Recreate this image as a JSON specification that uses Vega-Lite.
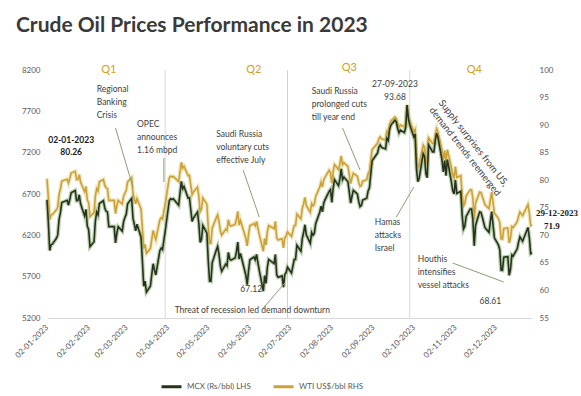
{
"$schema": "https://vega.github.io/schema/vega-lite/v6.json",
"width": 485, "height": 248,
"autosize": {"type": "none"},
"padding": {"left": 47, "top": 70, "right": 49, "bottom": 78},
"background": "white",
"title": {"text": "Crude Oil Prices Performance in 2023", "anchor": "start", "frame": "group", "dx": -31, "offset": 26, "fontSize": 21, "font": "Lato", "fontWeight": "bold", "color": "#3a3a3a"},
"config": {"view": {"stroke": null}, "font": "Lato"},
"datasets": {
"px": [
{"d":"2023-01-02","m":6630,"w":80.26},{"d":"2023-01-03","m":6354,"w":76.93},{"d":"2023-01-04","m":6017,"w":72.84},{"d":"2023-01-05","m":6085,"w":73.67},{"d":"2023-01-06","m":6093,"w":73.77},{"d":"2023-01-09","m":6164,"w":74.63},{"d":"2023-01-10","m":6205,"w":75.12},{"d":"2023-01-11","m":6394,"w":77.41},{"d":"2023-01-12","m":6475,"w":78.39},{"d":"2023-01-13","m":6596,"w":79.86},{"d":"2023-01-17","m":6623,"w":80.18},{"d":"2023-01-18","m":6565,"w":79.48},{"d":"2023-01-19","m":6635,"w":80.33},{"d":"2023-01-20","m":6716,"w":81.31},{"d":"2023-01-23","m":6742,"w":81.62},{"d":"2023-01-24","m":6619,"w":80.13},{"d":"2023-01-25","m":6620,"w":80.15},{"d":"2023-01-26","m":6691,"w":81.01},{"d":"2023-01-27","m":6582,"w":79.68},{"d":"2023-01-30","m":6435,"w":77.90},{"d":"2023-01-31","m":6515,"w":78.87},
{"d":"2023-02-01","m":6311,"w":76.41},{"d":"2023-02-02","m":6268,"w":75.88},{"d":"2023-02-03","m":6062,"w":73.39},{"d":"2023-02-06","m":6122,"w":74.11},{"d":"2023-02-07","m":6372,"w":77.14},{"d":"2023-02-08","m":6482,"w":78.47},{"d":"2023-02-09","m":6448,"w":78.06},{"d":"2023-02-10","m":6585,"w":79.72},{"d":"2023-02-13","m":6620,"w":80.14},{"d":"2023-02-14","m":6530,"w":79.06},{"d":"2023-02-15","m":6492,"w":78.59},{"d":"2023-02-16","m":6483,"w":78.49},{"d":"2023-02-17","m":6306,"w":76.34},{"d":"2023-02-21","m":6307,"w":76.36},{"d":"2023-02-22","m":6108,"w":73.95},{"d":"2023-02-23","m":6227,"w":75.39},{"d":"2023-02-24","m":6304,"w":76.32},{"d":"2023-02-27","m":6251,"w":75.68},{"d":"2023-02-28","m":6364,"w":77.05},
{"d":"2023-03-01","m":6417,"w":77.69},{"d":"2023-03-02","m":6456,"w":78.16},{"d":"2023-03-03","m":6582,"w":79.68},{"d":"2023-03-06","m":6646,"w":80.46},{"d":"2023-03-07","m":6408,"w":77.58},{"d":"2023-03-08","m":6332,"w":76.66},{"d":"2023-03-09","m":6254,"w":75.72},{"d":"2023-03-10","m":6334,"w":76.68},{"d":"2023-03-13","m":6178,"w":74.80},{"d":"2023-03-14","m":5892,"w":71.33},{"d":"2023-03-15","m":5585,"w":67.61},{"d":"2023-03-16","m":5646,"w":68.35},{"d":"2023-03-17","m":5513,"w":66.74},{"d":"2023-03-20","m":5587,"w":67.64},{"d":"2023-03-21","m":5727,"w":69.33},{"d":"2023-03-22","m":5856,"w":70.90},{"d":"2023-03-23","m":5779,"w":69.96},{"d":"2023-03-24","m":5721,"w":69.26},{"d":"2023-03-27","m":6014,"w":72.81},{"d":"2023-03-28","m":6046,"w":73.20},{"d":"2023-03-29","m":6027,"w":72.97},{"d":"2023-03-30","m":6143,"w":74.37},{"d":"2023-03-31","m":6250,"w":75.67},
{"d":"2023-04-03","m":6619,"w":80.42},{"d":"2023-04-04","m":6642,"w":80.71},{"d":"2023-04-05","m":6634,"w":80.61},{"d":"2023-04-06","m":6642,"w":80.70},{"d":"2023-04-10","m":6563,"w":79.74},{"d":"2023-04-11","m":6710,"w":81.53},{"d":"2023-04-12","m":6852,"w":83.26},{"d":"2023-04-13","m":6762,"w":82.16},{"d":"2023-04-14","m":6791,"w":82.52},{"d":"2023-04-17","m":6652,"w":80.83},{"d":"2023-04-18","m":6655,"w":80.86},{"d":"2023-04-19","m":6515,"w":79.16},{"d":"2023-04-20","m":6368,"w":77.37},{"d":"2023-04-21","m":6409,"w":77.87},{"d":"2023-04-24","m":6482,"w":78.76},{"d":"2023-04-25","m":6343,"w":77.07},{"d":"2023-04-26","m":6115,"w":74.30},{"d":"2023-04-27","m":6153,"w":74.76},{"d":"2023-04-28","m":6319,"w":76.78},
{"d":"2023-05-01","m":6227,"w":75.66},{"d":"2023-05-02","m":5898,"w":71.66},{"d":"2023-05-03","m":5646,"w":68.60},{"d":"2023-05-04","m":5643,"w":68.56},{"d":"2023-05-05","m":5871,"w":71.34},{"d":"2023-05-08","m":6021,"w":73.16},{"d":"2023-05-09","m":6066,"w":73.71},{"d":"2023-05-10","m":5972,"w":72.56},{"d":"2023-05-11","m":5833,"w":70.87},{"d":"2023-05-12","m":5764,"w":70.04},{"d":"2023-05-15","m":5852,"w":71.11},{"d":"2023-05-16","m":5832,"w":70.86},{"d":"2023-05-17","m":5994,"w":72.83},{"d":"2023-05-18","m":5914,"w":71.86},{"d":"2023-05-19","m":5900,"w":71.69},{"d":"2023-05-22","m":5925,"w":71.99},{"d":"2023-05-23","m":6000,"w":72.91},{"d":"2023-05-24","m":6118,"w":74.34},{"d":"2023-05-25","m":5912,"w":71.83},{"d":"2023-05-26","m":5981,"w":72.67},{"d":"2023-05-30","m":5717,"w":69.46},{"d":"2023-05-31","m":5604,"w":68.09},
{"d":"2023-06-01","m":5769,"w":70.10},{"d":"2023-06-02","m":5904,"w":71.74},{"d":"2023-06-05","m":5938,"w":72.15},{"d":"2023-06-06","m":5904,"w":71.74},{"d":"2023-06-07","m":5969,"w":72.53},{"d":"2023-06-08","m":5867,"w":71.29},{"d":"2023-06-09","m":5775,"w":70.17},{"d":"2023-06-12","m":5524,"w":67.12},{"d":"2023-06-13","m":5713,"w":69.42},{"d":"2023-06-14","m":5619,"w":68.27},{"d":"2023-06-15","m":5812,"w":70.62},{"d":"2023-06-16","m":5908,"w":71.78},{"d":"2023-06-20","m":5859,"w":71.19},{"d":"2023-06-21","m":5969,"w":72.53},{"d":"2023-06-22","m":5721,"w":69.51},{"d":"2023-06-23","m":5692,"w":69.16},{"d":"2023-06-26","m":5709,"w":69.37},{"d":"2023-06-27","m":5572,"w":67.70},{"d":"2023-06-28","m":5725,"w":69.56},{"d":"2023-06-29","m":5750,"w":69.86},{"d":"2023-06-30","m":5814,"w":70.64},
{"d":"2023-07-03","m":5744,"w":69.79},{"d":"2023-07-05","m":5908,"w":71.79},{"d":"2023-07-06","m":5909,"w":71.80},{"d":"2023-07-07","m":6079,"w":73.86},{"d":"2023-07-10","m":6007,"w":72.99},{"d":"2023-07-11","m":6159,"w":74.83},{"d":"2023-07-12","m":6234,"w":75.75},{"d":"2023-07-13","m":6328,"w":76.89},{"d":"2023-07-14","m":6207,"w":75.42},{"d":"2023-07-17","m":6103,"w":74.15},{"d":"2023-07-18","m":6234,"w":75.75},{"d":"2023-07-19","m":6201,"w":75.35},{"d":"2023-07-20","m":6224,"w":75.63},{"d":"2023-07-21","m":6343,"w":77.07},{"d":"2023-07-24","m":6480,"w":78.74},{"d":"2023-07-25","m":6554,"w":79.63},{"d":"2023-07-26","m":6484,"w":78.78},{"d":"2023-07-27","m":6591,"w":80.09},{"d":"2023-07-28","m":6632,"w":80.58},{"d":"2023-07-31","m":6732,"w":81.80},
{"d":"2023-08-01","m":6754,"w":81.37},{"d":"2023-08-02","m":6598,"w":79.49},{"d":"2023-08-03","m":6769,"w":81.55},{"d":"2023-08-04","m":6874,"w":82.82},{"d":"2023-08-07","m":6801,"w":81.94},{"d":"2023-08-08","m":6882,"w":82.92},{"d":"2023-08-09","m":7005,"w":84.40},{"d":"2023-08-10","m":6874,"w":82.82},{"d":"2023-08-11","m":6905,"w":83.19},{"d":"2023-08-14","m":6848,"w":82.51},{"d":"2023-08-15","m":6722,"w":80.99},{"d":"2023-08-16","m":6589,"w":79.38},{"d":"2023-08-17","m":6672,"w":80.39},{"d":"2023-08-18","m":6744,"w":81.25},{"d":"2023-08-21","m":6700,"w":80.72},{"d":"2023-08-22","m":6610,"w":79.64},{"d":"2023-08-23","m":6548,"w":78.89},{"d":"2023-08-24","m":6561,"w":79.05},{"d":"2023-08-25","m":6626,"w":79.83},{"d":"2023-08-28","m":6648,"w":80.10},{"d":"2023-08-29","m":6736,"w":81.16},{"d":"2023-08-30","m":6775,"w":81.63},{"d":"2023-08-31","m":6941,"w":83.63},
{"d":"2023-09-01","m":7101,"w":85.55},{"d":"2023-09-05","m":7195,"w":86.69},{"d":"2023-09-06","m":7266,"w":87.54},{"d":"2023-09-07","m":7293,"w":87.87},{"d":"2023-09-08","m":7263,"w":87.51},{"d":"2023-09-11","m":7245,"w":87.29},{"d":"2023-09-12","m":7374,"w":88.84},{"d":"2023-09-13","m":7347,"w":88.52},{"d":"2023-09-14","m":7483,"w":90.16},{"d":"2023-09-15","m":7534,"w":90.77},{"d":"2023-09-18","m":7593,"w":91.48},{"d":"2023-09-19","m":7570,"w":91.20},{"d":"2023-09-20","m":7493,"w":90.28},{"d":"2023-09-21","m":7439,"w":89.63},{"d":"2023-09-22","m":7473,"w":90.03},{"d":"2023-09-25","m":7443,"w":89.68},{"d":"2023-09-26","m":7502,"w":90.39},{"d":"2023-09-27","m":7775,"w":93.68},{"d":"2023-09-28","m":7612,"w":91.71},{"d":"2023-09-29","m":7536,"w":90.79},
{"d":"2023-10-02","m":7390,"w":88.82},{"d":"2023-10-03","m":7424,"w":89.23},{"d":"2023-10-04","m":7007,"w":84.22},{"d":"2023-10-05","m":6848,"w":82.31},{"d":"2023-10-06","m":6888,"w":82.79},{"d":"2023-10-09","m":7187,"w":86.38},{"d":"2023-10-10","m":7153,"w":85.97},{"d":"2023-10-11","m":6946,"w":83.49},{"d":"2023-10-12","m":6898,"w":82.91},{"d":"2023-10-13","m":7296,"w":87.69},{"d":"2023-10-16","m":7210,"w":86.66},{"d":"2023-10-17","m":7210,"w":86.66},{"d":"2023-10-18","m":7348,"w":88.32},{"d":"2023-10-19","m":7436,"w":89.37},{"d":"2023-10-20","m":7384,"w":88.75},{"d":"2023-10-23","m":7113,"w":85.49},{"d":"2023-10-24","m":6967,"w":83.74},{"d":"2023-10-25","m":7104,"w":85.39},{"d":"2023-10-26","m":6923,"w":83.21},{"d":"2023-10-27","m":7117,"w":85.54},{"d":"2023-10-30","m":6848,"w":82.31},{"d":"2023-10-31","m":6741,"w":81.02},
{"d":"2023-11-01","m":6701,"w":80.44},{"d":"2023-11-02","m":6869,"w":82.46},{"d":"2023-11-03","m":6707,"w":80.51},{"d":"2023-11-06","m":6732,"w":80.82},{"d":"2023-11-07","m":6445,"w":77.37},{"d":"2023-11-08","m":6275,"w":75.33},{"d":"2023-11-09","m":6309,"w":75.74},{"d":"2023-11-10","m":6428,"w":77.17},{"d":"2023-11-13","m":6519,"w":78.26},{"d":"2023-11-14","m":6519,"w":78.26},{"d":"2023-11-15","m":6386,"w":76.66},{"d":"2023-11-16","m":6073,"w":72.90},{"d":"2023-11-17","m":6322,"w":75.89},{"d":"2023-11-20","m":6483,"w":77.83},{"d":"2023-11-21","m":6478,"w":77.77},{"d":"2023-11-22","m":6422,"w":77.10},{"d":"2023-11-24","m":6293,"w":75.54},{"d":"2023-11-27","m":6236,"w":74.86},{"d":"2023-11-28","m":6365,"w":76.41},{"d":"2023-11-29","m":6486,"w":77.86},{"d":"2023-11-30","m":6328,"w":75.96},
{"d":"2023-12-01","m":6170,"w":74.07},{"d":"2023-12-04","m":6084,"w":73.04},{"d":"2023-12-05","m":6024,"w":72.32},{"d":"2023-12-06","m":5779,"w":69.38},{"d":"2023-12-07","m":5776,"w":69.34},{"d":"2023-12-08","m":5934,"w":71.23},{"d":"2023-12-11","m":5941,"w":71.32},{"d":"2023-12-12","m":5715,"w":68.61},{"d":"2023-12-13","m":5787,"w":69.47},{"d":"2023-12-14","m":5963,"w":71.58},{"d":"2023-12-15","m":5950,"w":71.43},{"d":"2023-12-18","m":6037,"w":72.47},{"d":"2023-12-19","m":6118,"w":73.44},{"d":"2023-12-20","m":6183,"w":74.22},{"d":"2023-12-21","m":6155,"w":73.89},{"d":"2023-12-22","m":6128,"w":73.56},{"d":"2023-12-26","m":6295,"w":75.57},{"d":"2023-12-27","m":6173,"w":74.11},{"d":"2023-12-28","m":5978,"w":71.77},{"d":"2023-12-29","m":5989,"w":71.90}
],
"qgray": [{"d":"2023-03-31"},{"d":"2023-09-29"}],
"qred": [{"d":"2023-06-30"}],
"leaders": [
{"d":"2023-02-22","v":7498,"d2":"2023-03-07","v2":6780},
{"d":"2023-03-30","v":7135,"d2":"2023-03-30","v2":6845},
{"d":"2023-05-28","v":6990,"d2":"2023-06-09","v2":6421},
{"d":"2023-08-10","v":7498,"d2":"2023-08-23","v2":6990},
{"d":"2023-09-19","v":6421,"d2":"2023-10-02","v2":6784},
{"d":"2023-10-31","v":5865,"d2":"2023-12-08","v2":5635},
{"d":"2023-06-12","v":5320,"d2":"2023-06-28","v2":5623}
],
"notesL": [
{"d":"2023-02-08","v":8018,"t":"Regional|Banking|Crisis"},
{"d":"2023-03-10","v":7595,"t":"OPEC|announces|1.16 mbpd"},
{"d":"2023-05-08","v":7474,"t":"Saudi Russia|voluntary cuts|effective July"},
{"d":"2023-07-18","v":7994,"t":"Saudi Russia|prolonged cuts|till year end"},
{"d":"2023-09-03","v":6409,"t":"Hamas|attacks|Israel"},
{"d":"2023-10-05","v":5962,"t":"Houthis|intensifies|vessel attacks"},
{"d":"2023-04-07","v":5345,"t":"Threat of recession led demand downturn"}
],
"notesC": [
{"d":"2023-06-03","v":5600,"t":"67.12"},
{"d":"2023-11-28","v":5453,"t":"68.61"},
{"d":"2023-09-18","v":8079,"t":"27-09-2023|93.68"}
],
"boldC": [{"d":"2023-01-20","v":7401,"t":"02-01-2023|80.26"}],
"boldR": [{"d":"2024-01-01","v":6470,"t":"29-12-2023"},{"d":"2024-01-07","v":6312,"t":"71.9"}],
"rot": [{"d":"2023-10-25","v":7861,"t":"Supply surprises from US,|demand trends reemerged"}],
"quarters": [{"d":"2023-02-17","v":8200,"t":"Q1"},{"d":"2023-06-05","v":8200,"t":"Q2"},{"d":"2023-08-15","v":8224,"t":"Q3"},{"d":"2023-11-16","v":8200,"t":"Q4"}]
},
"encoding": {
"x": {"field": "d", "type": "temporal",
 "scale": {"type": "utc", "domain": [{"year":2023,"month":1,"date":2,"utc":true},{"year":2023,"month":12,"date":29,"utc":true}]},
 "axis": {"values": [{"year":2023,"month":1,"date":2,"utc":true},{"year":2023,"month":2,"date":2,"utc":true},{"year":2023,"month":3,"date":2,"utc":true},{"year":2023,"month":4,"date":2,"utc":true},{"year":2023,"month":5,"date":2,"utc":true},{"year":2023,"month":6,"date":2,"utc":true},{"year":2023,"month":7,"date":2,"utc":true},{"year":2023,"month":8,"date":2,"utc":true},{"year":2023,"month":9,"date":2,"utc":true},{"year":2023,"month":10,"date":2,"utc":true},{"year":2023,"month":11,"date":2,"utc":true},{"year":2023,"month":12,"date":2,"utc":true}],
  "labelExpr": "utcFormat(datum.value, '%d-%m-%Y')", "labelAngle": -45, "labelAlign": "right", "labelBaseline": "middle", "labelFontSize": 8, "labelColor": "#595959", "ticks": false, "domainColor": "#d9d9d9", "grid": false, "title": null, "labelPadding": 8, "labelFont": "Lato"}}
},
"layer": [
{"data": {"name": "qgray"}, "mark": {"type": "rule", "color": "#d9d9d9", "strokeWidth": 1}},
{"data": {"name": "qred"}, "mark": {"type": "rule", "color": "#f2c4bd", "strokeWidth": 1}},
{"data": {"name": "px"}, "mark": {"type": "line", "color": "#e9d595", "strokeWidth": 4, "opacity": 0.65},
 "encoding": {"y": {"field": "w", "type": "quantitative", "scale": {"domain": [55, 100], "nice": false, "zero": false}, "axis": null}}},
{"data": {"name": "px"}, "mark": {"type": "line", "color": "#7fa866", "strokeWidth": 4, "opacity": 0.55},
 "encoding": {"y": {"field": "m", "type": "quantitative", "scale": {"domain": [5200, 8200], "nice": false, "zero": false}, "axis": null}}},
{"data": {"name": "px"}, "mark": {"type": "line", "strokeWidth": 1.6},
 "encoding": {"y": {"field": "w", "type": "quantitative", "scale": {"domain": [55, 100], "nice": false, "zero": false},
   "axis": {"orient": "right", "values": [55,60,65,70,75,80,85,90,95,100], "format": "d", "ticks": false, "domain": false, "grid": false, "title": null, "labelFontSize": 8, "labelColor": "#595959", "labelPadding": 7, "labelFont": "Lato"}},
  "color": {"datum": "WTI US$/bbl RHS", "type": "nominal"}}},
{"data": {"name": "px"}, "mark": {"type": "line", "strokeWidth": 1.6},
 "encoding": {"y": {"field": "m", "type": "quantitative", "scale": {"domain": [5200, 8200], "nice": false, "zero": false},
   "axis": {"orient": "left", "values": [5200,5700,6200,6700,7200,7700,8200], "format": "d", "ticks": false, "domain": false, "grid": false, "title": null, "labelFontSize": 8, "labelColor": "#595959", "labelPadding": 7, "labelFont": "Lato"}},
  "color": {"datum": "MCX (Rs/bbl) LHS", "type": "nominal",
   "scale": {"domain": ["MCX (Rs/bbl) LHS", "WTI US$/bbl RHS"], "range": ["#26321e", "#c9a33a"]},
   "legend": {"orient": "none", "legendX": 113, "legendY": 305, "direction": "horizontal", "title": null, "symbolType": "stroke", "symbolStrokeWidth": 3, "symbolSize": 400, "labelFontSize": 8, "labelColor": "#595959", "columnPadding": 16, "labelFont": "Lato"}}}},
{"data": {"name": "leaders"}, "mark": {"type": "rule", "color": "#86a274", "strokeWidth": 1},
 "encoding": {"y": {"field": "v", "type": "quantitative", "scale": {"domain": [5200, 8200], "nice": false, "zero": false}, "axis": null},
  "x2": {"field": "d2"}, "y2": {"field": "v2"}}},
{"data": {"name": "notesL"}, "mark": {"type": "text", "align": "left", "baseline": "top", "fontSize": 8.5, "lineBreak": "|", "lineHeight": 13, "color": "#404040", "font": "Lato"},
 "encoding": {"y": {"field": "v", "type": "quantitative", "scale": {"domain": [5200, 8200], "nice": false, "zero": false}, "axis": null}, "text": {"field": "t"}}},
{"data": {"name": "notesC"}, "mark": {"type": "text", "align": "center", "baseline": "top", "fontSize": 8.5, "lineBreak": "|", "lineHeight": 13, "color": "#404040", "font": "Lato"},
 "encoding": {"y": {"field": "v", "type": "quantitative", "scale": {"domain": [5200, 8200], "nice": false, "zero": false}, "axis": null}, "text": {"field": "t"}}},
{"data": {"name": "boldC"}, "mark": {"type": "text", "align": "center", "baseline": "top", "fontSize": 8.5, "fontWeight": "bold", "lineBreak": "|", "lineHeight": 12, "color": "#1a1a1a", "font": "Lato"},
 "encoding": {"y": {"field": "v", "type": "quantitative", "scale": {"domain": [5200, 8200], "nice": false, "zero": false}, "axis": null}, "text": {"field": "t"}}},
{"data": {"name": "boldR"}, "mark": {"type": "text", "align": "left", "baseline": "middle", "fontSize": 9, "fontWeight": "bold", "color": "#1a1a1a", "font": "Liberation Serif"},
 "encoding": {"y": {"field": "v", "type": "quantitative", "scale": {"domain": [5200, 8200], "nice": false, "zero": false}, "axis": null}, "text": {"field": "t"}}},
{"data": {"name": "rot"}, "mark": {"type": "text", "align": "left", "baseline": "top", "angle": 52, "fontSize": 9.5, "lineBreak": "|", "lineHeight": 12, "color": "#404040", "font": "Lato"},
 "encoding": {"y": {"field": "v", "type": "quantitative", "scale": {"domain": [5200, 8200], "nice": false, "zero": false}, "axis": null}, "text": {"field": "t"}}},
{"data": {"name": "quarters"}, "mark": {"type": "text", "align": "center", "baseline": "middle", "fontSize": 11, "color": "#d1a024", "font": "Lato"},
 "encoding": {"y": {"field": "v", "type": "quantitative", "scale": {"domain": [5200, 8200], "nice": false, "zero": false}, "axis": null}, "text": {"field": "t"}}}
],
"resolve": {"scale": {"y": "independent"}}
}
